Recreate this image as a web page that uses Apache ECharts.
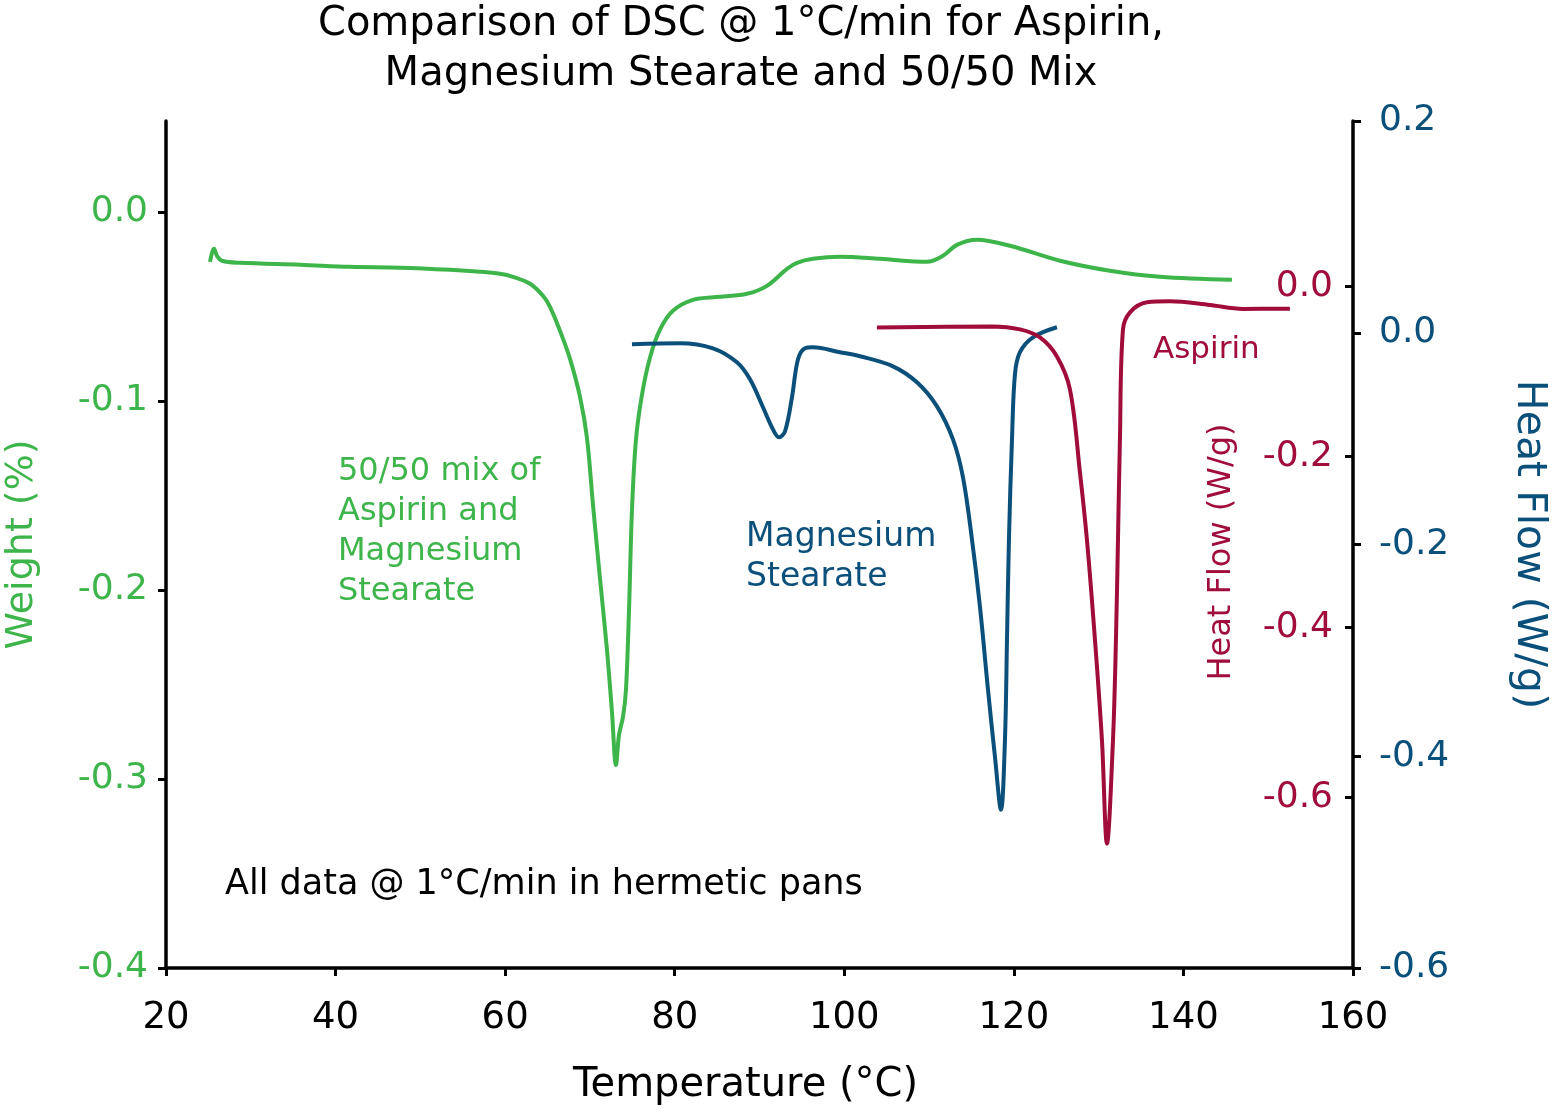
<!DOCTYPE html>
<html>
<head>
<meta charset="utf-8">
<script src="https://cdn.jsdelivr.net/npm/echarts@6/dist/echarts.min.js"></script>
<style>
html,body{margin:0;padding:0;background:#fff;}
#chart{width:1554px;height:1114px;}
</style>
</head>
<body>
<div id="chart"></div>
<script>
// ---- data ----
const mixTemp = [25.19,25.43,25.66,26.01,26.60,28.73,35.80,41.70,47.60,53.49,57.03,59.39,60.92,62.93,64.46,65.29,66.47,67.65,68.83,69.65,70.36,71.18,72.01,72.60,73.07,73.43,73.90,74.25,74.61,74.96,75.43,76.14,77.08,78.26,79.79,82.15,85.34,88.52,90.88,93.24,94.42,96.31,99.49,104.21,109.75,111.64,113.29,115.65,119.54,125.44,131.33,137.23,145.72];
const mixValue = [-0.0265,-0.0217,-0.0196,-0.0233,-0.0259,-0.0270,-0.0280,-0.0291,-0.0296,-0.0307,-0.0317,-0.0328,-0.0344,-0.0381,-0.0444,-0.0503,-0.0630,-0.0778,-0.0979,-0.1196,-0.1550,-0.1937,-0.2317,-0.2646,-0.2926,-0.2767,-0.2672,-0.2529,-0.2106,-0.1577,-0.1206,-0.0968,-0.0772,-0.0624,-0.0524,-0.0466,-0.0450,-0.0434,-0.0392,-0.0302,-0.0270,-0.0249,-0.0238,-0.0249,-0.0265,-0.0233,-0.0175,-0.0148,-0.0180,-0.0259,-0.0312,-0.0344,-0.0360];

const mgTemp = [74.96,80.62,84.51,87.34,88.88,90.41,91.59,92.30,93.01,93.83,94.54,95.36,96.31,99.49,101.85,105.74,108.57,110.93,112.82,114.00,115.06,116.00,116.95,117.77,118.48,118.95,119.19,119.42,119.78,120.13,120.72,122.25,125.08];
const mgValue = [-0.0109,-0.0099,-0.0147,-0.0279,-0.0440,-0.0704,-0.0913,-0.0988,-0.0931,-0.0610,-0.0251,-0.0147,-0.0137,-0.0184,-0.0222,-0.0317,-0.0468,-0.0695,-0.1007,-0.1366,-0.1953,-0.2586,-0.3371,-0.4005,-0.4506,-0.3844,-0.2898,-0.1953,-0.1007,-0.0392,-0.0184,-0.0043,0.0052];

const aspTemp = [103.85,117.53,120.72,123.08,125.08,126.62,127.80,128.62,129.57,130.39,130.98,131.69,132.04,132.28,132.51,132.87,133.70,135.70,138.41,143.13,147.02,152.56];
const aspValue = [-0.0482,-0.0471,-0.0506,-0.0600,-0.0824,-0.1212,-0.2188,-0.2976,-0.4153,-0.5329,-0.6541,-0.5329,-0.4153,-0.2976,-0.1800,-0.0506,-0.0306,-0.0188,-0.0176,-0.0220,-0.0265,-0.0262];

const xTicks = [20,40,60,80,100,120,140,160];
const weightTicks = [-0.4,-0.3,-0.2,-0.1,0.0];
const mgTicks = [-0.6,-0.4,-0.2,0.0,0.2];
const aspTicks = [-0.6,-0.4,-0.2,0.0];

// ---- styling ----
const GREEN = '#3db54a', BLUE = '#0b4f7b', RED = '#a00d3b', BLACK = '#000';
const FONT = 'DejaVu Sans';
const zip = (a,b) => a.map((v,i)=>[v,b[i]]);
const fmt = v => Number(v).toFixed(1);

const chart = echarts.init(document.getElementById('chart'));
chart.setOption({
  animation:false,
  backgroundColor:'#fff',
  grid:{left:166, right:201, top:121, bottom:146, outerBoundsMode:'none', containLabel:false},
  xAxis:{
    type:'value', min:20, max:160, interval:20,
    name:'Temperature (°C)', nameLocation:'middle', nameGap:98,
    nameTextStyle:{color:BLACK, fontSize:40, fontFamily:FONT, padding:[0,28,0,0]},
    axisLine:{show:true, onZero:false, lineStyle:{color:BLACK, width:3.5}},
    axisTick:{show:true, length:8, lineStyle:{color:BLACK, width:3}, customValues:xTicks},
    axisLabel:{color:BLACK, fontSize:37, fontFamily:FONT, margin:32, customValues:xTicks},
    splitLine:{show:false}
  },
  yAxis:[
    {
      type:'value', position:'left', min:-0.4, max:0.048,
      name:'Weight (%)', nameLocation:'middle', nameGap:125,
      nameTextStyle:{color:GREEN, fontSize:38, fontFamily:FONT},
      axisLine:{show:true, onZero:false, lineStyle:{color:BLACK, width:3.5}},
      axisTick:{show:true, length:8, lineStyle:{color:BLACK, width:3}, customValues:weightTicks},
      axisLabel:{color:GREEN, fontSize:36, fontFamily:FONT, margin:18, formatter:fmt, customValues:weightTicks},
      splitLine:{show:false}
    },
    {
      type:'value', position:'right', min:-0.6, max:0.2,
      name:'Heat Flow (W/g)', nameLocation:'middle', nameGap:155, nameRotate:-90,
      nameTextStyle:{color:BLUE, fontSize:41, fontFamily:FONT},
      axisLine:{show:true, onZero:false, lineStyle:{color:BLACK, width:3.5}},
      axisTick:{show:true, length:8, lineStyle:{color:BLACK, width:3}, customValues:mgTicks},
      axisLabel:{color:BLUE, fontSize:36, fontFamily:FONT, margin:26, formatter:fmt, customValues:mgTicks},
      splitLine:{show:false}
    },
    {
      type:'value', position:'right', offset:0, min:-0.8, max:0.194,
      axisLine:{show:false},
      axisTick:{show:true, inside:true, length:8, lineStyle:{color:BLACK, width:3}, customValues:aspTicks},
      axisLabel:{inside:true, color:RED, fontSize:36, fontFamily:FONT, margin:20, formatter:fmt, customValues:aspTicks},
      splitLine:{show:false}
    }
  ],
  series:[
    {type:'line', name:'50/50 mix', yAxisIndex:0, data:zip(mixTemp,mixValue), showSymbol:false, smooth:0.35, lineStyle:{color:GREEN, width:4}, itemStyle:{color:GREEN}},
    {type:'line', name:'Magnesium Stearate', yAxisIndex:1, data:zip(mgTemp,mgValue), showSymbol:false, smooth:0.35, lineStyle:{color:BLUE, width:4}, itemStyle:{color:BLUE}},
    {type:'line', name:'Aspirin', yAxisIndex:2, data:zip(aspTemp,aspValue), showSymbol:false, smooth:0.35, lineStyle:{color:RED, width:4}, itemStyle:{color:RED}}
  ],
  graphic:[
    {type:'text', x:741, y:0, style:{text:'Comparison of DSC @ 1°C/min for Aspirin,\nMagnesium Stearate and 50/50 Mix', fill:BLACK, font:'40px "DejaVu Sans"', textAlign:'center', lineHeight:50}},
    {type:'text', x:338, y:452, style:{text:'50/50 mix of\nAspirin and\nMagnesium\nStearate', fill:GREEN, font:'32px "DejaVu Sans"', lineHeight:40}},
    {type:'text', x:746, y:517, style:{text:'Magnesium\nStearate', fill:BLUE, font:'33px "DejaVu Sans"', lineHeight:40}},
    {type:'text', x:1153, y:334, style:{text:'Aspirin', fill:RED, font:'31px "DejaVu Sans"'}},
    {type:'text', x:225, y:867, style:{text:'All data @ 1°C/min in hermetic pans', fill:BLACK, font:'35px "DejaVu Sans"'}},
    {type:'text', x:1222, y:552, rotation:Math.PI/2, style:{text:'Heat Flow (W/g)', fill:RED, font:'32px "DejaVu Sans"', textAlign:'center', textVerticalAlign:'middle'}}
  ]
});
</script>
</body>
</html>
